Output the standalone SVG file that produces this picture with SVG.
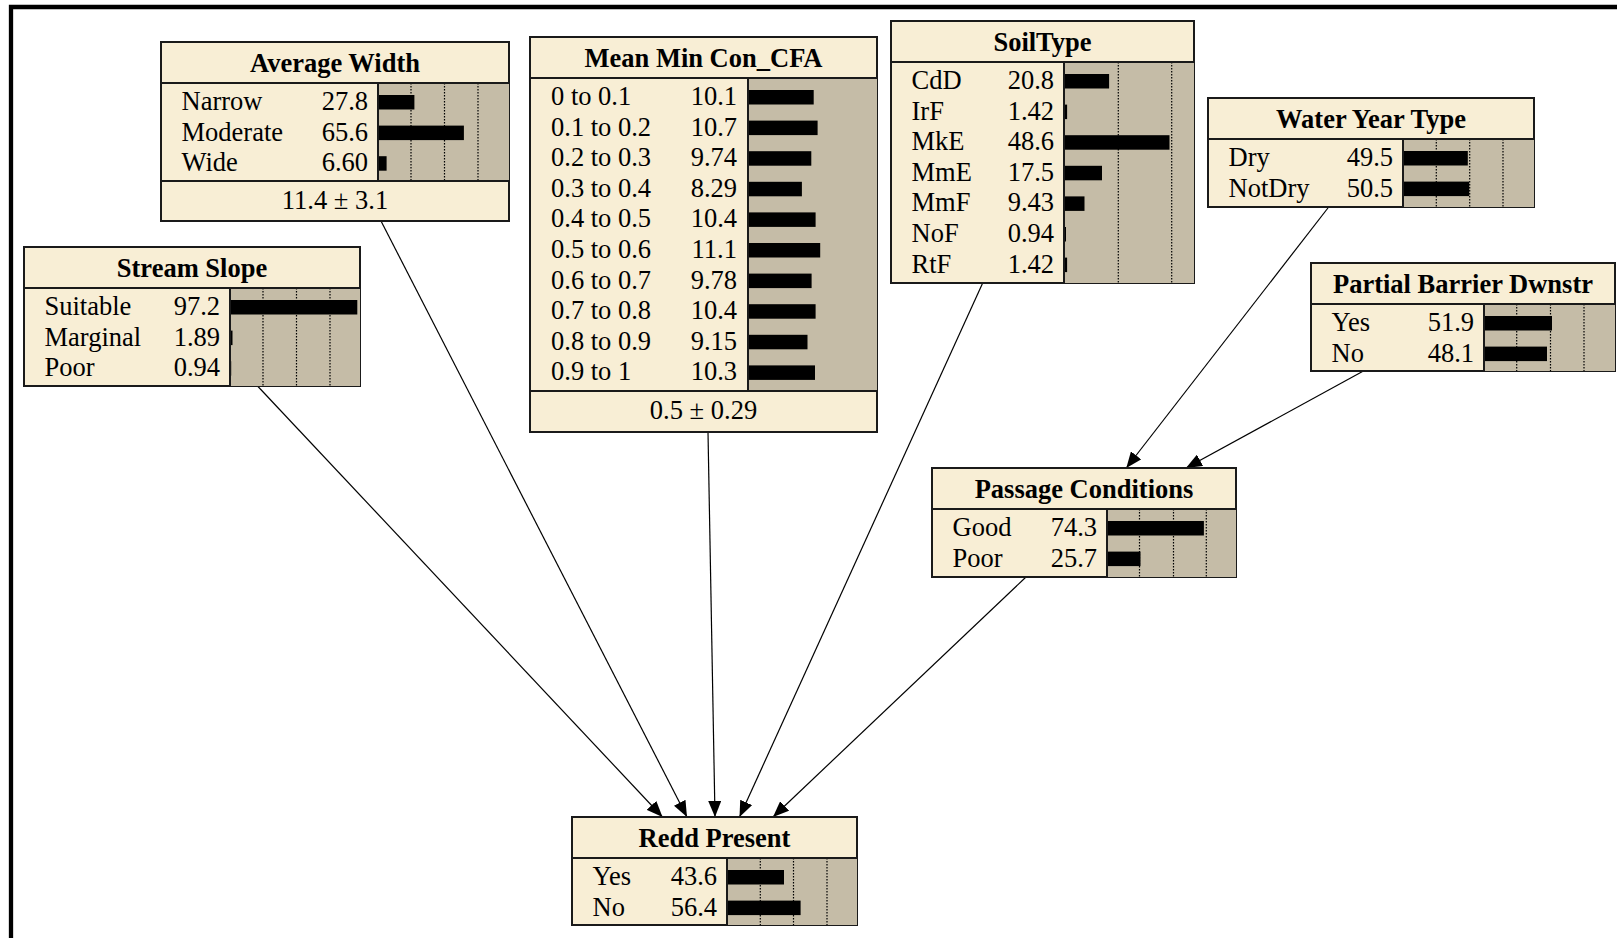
<svg xmlns="http://www.w3.org/2000/svg" width="1617" height="938" viewBox="0 0 1617 938">
<defs>
<style>
.box{fill:#F8EED5;stroke:#1a1a1a;stroke-width:2}
.ba{fill:#C5BCA7}
.sep{stroke:#1a1a1a;stroke-width:2}
.dot{stroke:#000;stroke-width:1.2;stroke-dasharray:1.5,1.5}
.bar{fill:#000}
.t{font-family:"Liberation Serif","Times New Roman",serif;font-size:26.5px;font-weight:bold;text-anchor:middle;fill:#000}
.l{font-family:"Liberation Serif","Times New Roman",serif;font-size:26.5px;fill:#000}
.v{font-family:"Liberation Serif","Times New Roman",serif;font-size:26.5px;fill:#000;text-anchor:end}
.s{font-family:"Liberation Serif","Times New Roman",serif;font-size:26.5px;fill:#000;text-anchor:middle}
.link{stroke:#000;stroke-width:1.2;fill:none;marker-end:url(#arr)}
</style>
<marker id="arr" viewBox="0 0 16 13" refX="16" refY="6.5" markerWidth="16" markerHeight="13" markerUnits="userSpaceOnUse" orient="auto">
<path d="M0,0 L16,6.5 L0,13 z" fill="#000"/>
</marker>
</defs>
<rect x="0" y="0" width="1617" height="938" fill="#fff"/>
<path d="M11,938 V7 H1617" fill="none" stroke="#000" stroke-width="4.3"/>

<g id="connectors">
<line class="link" x1="381" y1="221" x2="687" y2="817"/>
<line class="link" x1="257.5" y1="386" x2="662.5" y2="817"/>
<line class="link" x1="708" y1="432" x2="715" y2="817"/>
<line class="link" x1="982.7" y1="283" x2="739.5" y2="817"/>
<line class="link" x1="1026" y1="577" x2="773" y2="817"/>
<line class="link" x1="1328.7" y1="207" x2="1126.3" y2="468"/>
<line class="link" x1="1363.4" y1="371" x2="1186" y2="468"/>
</g>

<g id="average-width" transform="translate(161,42)">
<rect class="box" x="0" y="0" width="348" height="179"/>
<rect class="ba" x="217" y="41" width="131" height="98"/>
<rect class="bar" x="217" y="53" width="36.4" height="14.5"/>
<rect class="bar" x="217" y="83.6" width="85.9" height="14.5"/>
<rect class="bar" x="217" y="114.2" width="8.6" height="14.5"/>
<line class="dot" x1="250" y1="41" x2="250" y2="139"/>
<line class="dot" x1="283.5" y1="41" x2="283.5" y2="139"/>
<line class="dot" x1="317" y1="41" x2="317" y2="139"/>
<line class="sep" x1="217" y1="41" x2="217" y2="139"/>
<line class="sep" x1="0" y1="41" x2="348" y2="41"/>
<line class="sep" x1="0" y1="139" x2="348" y2="139"/>
<text class="t" x="174" y="30">Average Width</text>
<text class="l" x="20.5" y="68">Narrow</text><text class="v" x="207" y="68">27.8</text>
<text class="l" x="20.5" y="98.6">Moderate</text><text class="v" x="207" y="98.6">65.6</text>
<text class="l" x="20.5" y="129.2">Wide</text><text class="v" x="207" y="129.2">6.60</text>
<text class="s" x="174" y="167">11.4 ± 3.1</text>
</g>

<g id="stream-slope" transform="translate(24,247)">
<rect class="box" x="0" y="0" width="336" height="139"/>
<rect class="ba" x="206" y="41" width="130" height="98"/>
<rect class="bar" x="206" y="53" width="127.3" height="14.5"/>
<rect class="bar" x="206" y="83.6" width="2.5" height="14.5"/>
<rect class="bar" x="206" y="114.2" width="1.2" height="14.5"/>
<line class="dot" x1="239" y1="41" x2="239" y2="139"/>
<line class="dot" x1="272.5" y1="41" x2="272.5" y2="139"/>
<line class="dot" x1="306" y1="41" x2="306" y2="139"/>
<line class="sep" x1="206" y1="41" x2="206" y2="139"/>
<line class="sep" x1="0" y1="41" x2="336" y2="41"/>
<text class="t" x="168" y="30">Stream Slope</text>
<text class="l" x="20.5" y="68">Suitable</text><text class="v" x="196" y="68">97.2</text>
<text class="l" x="20.5" y="98.6">Marginal</text><text class="v" x="196" y="98.6">1.89</text>
<text class="l" x="20.5" y="129.2">Poor</text><text class="v" x="196" y="129.2">0.94</text>
</g>

<g id="mean-min-con-cfa" transform="translate(530,37)">
<rect class="box" x="0" y="0" width="347" height="395"/>
<rect class="ba" x="218" y="41" width="129" height="313"/>
<rect class="bar" x="218" y="53" width="65.7" height="14.5"/>
<rect class="bar" x="218" y="83.6" width="69.6" height="14.5"/>
<rect class="bar" x="218" y="114.2" width="63.3" height="14.5"/>
<rect class="bar" x="218" y="144.8" width="53.9" height="14.5"/>
<rect class="bar" x="218" y="175.4" width="67.6" height="14.5"/>
<rect class="bar" x="218" y="206" width="72.2" height="14.5"/>
<rect class="bar" x="218" y="236.6" width="63.6" height="14.5"/>
<rect class="bar" x="218" y="267.2" width="67.6" height="14.5"/>
<rect class="bar" x="218" y="297.8" width="59.5" height="14.5"/>
<rect class="bar" x="218" y="328.4" width="67" height="14.5"/>
<line class="sep" x1="218" y1="41" x2="218" y2="354"/>
<line class="sep" x1="0" y1="41" x2="347" y2="41"/>
<line class="sep" x1="0" y1="354" x2="347" y2="354"/>
<text class="t" x="173.5" y="30">Mean Min Con_CFA</text>
<text class="l" x="21" y="68">0 to 0.1</text><text class="v" x="207" y="68">10.1</text>
<text class="l" x="21" y="98.6">0.1 to 0.2</text><text class="v" x="207" y="98.6">10.7</text>
<text class="l" x="21" y="129.2">0.2 to 0.3</text><text class="v" x="207" y="129.2">9.74</text>
<text class="l" x="21" y="159.8">0.3 to 0.4</text><text class="v" x="207" y="159.8">8.29</text>
<text class="l" x="21" y="190.4">0.4 to 0.5</text><text class="v" x="207" y="190.4">10.4</text>
<text class="l" x="21" y="221">0.5 to 0.6</text><text class="v" x="207" y="221">11.1</text>
<text class="l" x="21" y="251.6">0.6 to 0.7</text><text class="v" x="207" y="251.6">9.78</text>
<text class="l" x="21" y="282.2">0.7 to 0.8</text><text class="v" x="207" y="282.2">10.4</text>
<text class="l" x="21" y="312.8">0.8 to 0.9</text><text class="v" x="207" y="312.8">9.15</text>
<text class="l" x="21" y="343.4">0.9 to 1</text><text class="v" x="207" y="343.4">10.3</text>
<text class="s" x="173.5" y="382">0.5 ± 0.29</text>
</g>

<g id="soil-type" transform="translate(891,21)">
<rect class="box" x="0" y="0" width="303" height="262"/>
<rect class="ba" x="173" y="41" width="130" height="221"/>
<rect class="bar" x="173" y="53" width="45.1" height="14.5"/>
<rect class="bar" x="173" y="83.6" width="3.1" height="14.5"/>
<rect class="bar" x="173" y="114.2" width="105.5" height="14.5"/>
<rect class="bar" x="173" y="144.8" width="38" height="14.5"/>
<rect class="bar" x="173" y="175.4" width="20.5" height="14.5"/>
<rect class="bar" x="173" y="206" width="2" height="14.5"/>
<rect class="bar" x="173" y="236.6" width="3.1" height="14.5"/>
<line class="dot" x1="227.3" y1="41" x2="227.3" y2="262"/>
<line class="dot" x1="280.7" y1="41" x2="280.7" y2="262"/>
<line class="sep" x1="173" y1="41" x2="173" y2="262"/>
<line class="sep" x1="0" y1="41" x2="303" y2="41"/>
<text class="t" x="151.5" y="30">SoilType</text>
<text class="l" x="20.5" y="68">CdD</text><text class="v" x="163" y="68">20.8</text>
<text class="l" x="20.5" y="98.6">IrF</text><text class="v" x="163" y="98.6">1.42</text>
<text class="l" x="20.5" y="129.2">MkE</text><text class="v" x="163" y="129.2">48.6</text>
<text class="l" x="20.5" y="159.8">MmE</text><text class="v" x="163" y="159.8">17.5</text>
<text class="l" x="20.5" y="190.4">MmF</text><text class="v" x="163" y="190.4">9.43</text>
<text class="l" x="20.5" y="221">NoF</text><text class="v" x="163" y="221">0.94</text>
<text class="l" x="20.5" y="251.6">RtF</text><text class="v" x="163" y="251.6">1.42</text>
</g>

<g id="water-year-type" transform="translate(1208,98)">
<rect class="box" x="0" y="0" width="326" height="109"/>
<rect class="ba" x="195" y="41" width="131" height="68"/>
<rect class="bar" x="195" y="53" width="64.8" height="14.5"/>
<rect class="bar" x="195" y="83.6" width="66.2" height="14.5"/>
<line class="dot" x1="228.3" y1="41" x2="228.3" y2="109"/>
<line class="dot" x1="261.7" y1="41" x2="261.7" y2="109"/>
<line class="dot" x1="295" y1="41" x2="295" y2="109"/>
<line class="sep" x1="195" y1="41" x2="195" y2="109"/>
<line class="sep" x1="0" y1="41" x2="326" y2="41"/>
<text class="t" x="163" y="30">Water Year Type</text>
<text class="l" x="20.5" y="68">Dry</text><text class="v" x="185" y="68">49.5</text>
<text class="l" x="20.5" y="98.6">NotDry</text><text class="v" x="185" y="98.6">50.5</text>
</g>

<g id="partial-barrier-dwnstr" transform="translate(1311,263)">
<rect class="box" x="0" y="0" width="304" height="108"/>
<rect class="ba" x="173" y="41" width="131" height="67"/>
<rect class="bar" x="173" y="53" width="68" height="14.5"/>
<rect class="bar" x="173" y="83.6" width="63" height="14.5"/>
<line class="dot" x1="205.7" y1="41" x2="205.7" y2="108"/>
<line class="dot" x1="239.5" y1="41" x2="239.5" y2="108"/>
<line class="dot" x1="273" y1="41" x2="273" y2="108"/>
<line class="sep" x1="173" y1="41" x2="173" y2="108"/>
<line class="sep" x1="0" y1="41" x2="304" y2="41"/>
<text class="t" x="152" y="30">Partial Barrier Dwnstr</text>
<text class="l" x="20.5" y="68">Yes</text><text class="v" x="163" y="68">51.9</text>
<text class="l" x="20.5" y="98.6">No</text><text class="v" x="163" y="98.6">48.1</text>
</g>

<g id="passage-conditions" transform="translate(932,468)">
<rect class="box" x="0" y="0" width="304" height="109"/>
<rect class="ba" x="175" y="41" width="129" height="68"/>
<rect class="bar" x="175" y="53" width="96.9" height="14.5"/>
<rect class="bar" x="175" y="83.6" width="33.5" height="14.5"/>
<line class="dot" x1="207.5" y1="41" x2="207.5" y2="109"/>
<line class="dot" x1="241.5" y1="41" x2="241.5" y2="109"/>
<line class="dot" x1="274.3" y1="41" x2="274.3" y2="109"/>
<line class="sep" x1="175" y1="41" x2="175" y2="109"/>
<line class="sep" x1="0" y1="41" x2="304" y2="41"/>
<text class="t" x="152" y="30">Passage Conditions</text>
<text class="l" x="20.5" y="68">Good</text><text class="v" x="165" y="68">74.3</text>
<text class="l" x="20.5" y="98.6">Poor</text><text class="v" x="165" y="98.6">25.7</text>
</g>

<g id="redd-present" transform="translate(572,817)">
<rect class="box" x="0" y="0" width="285" height="108"/>
<rect class="ba" x="155" y="41" width="130" height="67"/>
<rect class="bar" x="155" y="53" width="57" height="14.5"/>
<rect class="bar" x="155" y="83.6" width="73.6" height="14.5"/>
<line class="dot" x1="188.3" y1="41" x2="188.3" y2="108"/>
<line class="dot" x1="221.5" y1="41" x2="221.5" y2="108"/>
<line class="dot" x1="255" y1="41" x2="255" y2="108"/>
<line class="sep" x1="155" y1="41" x2="155" y2="108"/>
<line class="sep" x1="0" y1="41" x2="285" y2="41"/>
<text class="t" x="142.5" y="30">Redd Present</text>
<text class="l" x="20.5" y="68">Yes</text><text class="v" x="145" y="68">43.6</text>
<text class="l" x="20.5" y="98.6">No</text><text class="v" x="145" y="98.6">56.4</text>
</g>
</svg>
